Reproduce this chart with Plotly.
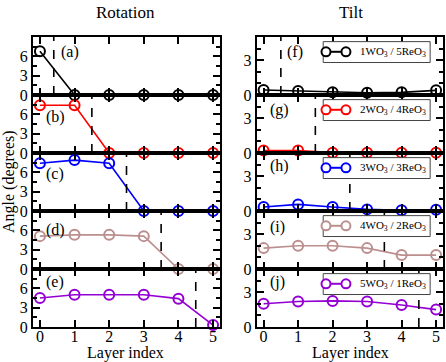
import plotly.graph_objects as go

layers = [0, 1, 2, 3, 4, 5]

# rotation angles (left column)
rot_a = [6.8, 0, 0, 0, 0, 0]
rot_b = [7.4, 7.4, 0, 0, 0, 0]
rot_c = [7.4, 7.9, 7.4, 0, 0, 0]
rot_d = [5.1, 5.3, 5.3, 5.1, 0, 0]
rot_e = [4.5, 5.0, 5.0, 5.0, 4.4, 0.3]

# tilt angles (right column)
tilt_f = [0.43, 0.34, 0.23, 0.2, 0.23, 0.4]
tilt_g = [0.22, 0.22, 0.03, 0.03, 0.03, 0.03]
tilt_h = [0.34, 0.57, 0.34, 0.14, 0.07, 0.1]
tilt_i = [1.8, 2.0, 2.0, 1.8, 1.2, 1.2]
tilt_j = [2.0, 2.2, 2.25, 2.2, 1.9, 1.5]

rot_interfaces = [0.4, 1.5, 2.5, 3.5, 4.5]
tilt_interfaces = [0.5, 1.5, 2.5, 3.5, 4.5]

rot_labels = ["(a)", "(b)", "(c)", "(d)", "(e)"]
tilt_labels = ["(f)", "(g)", "(h)", "(i)", "(j)"]
legend_names = ["1WO<sub>3</sub> / 5ReO<sub>3</sub>", "2WO<sub>3</sub> / 4ReO<sub>3</sub>",
                "3WO<sub>3</sub> / 3ReO<sub>3</sub>", "4WO<sub>3</sub> / 2ReO<sub>3</sub>",
                "5WO<sub>3</sub> / 1ReO<sub>3</sub>"]
colors = ["#000000", "#ff0000", "#0000ff", "#bc8f8f", "#9400d3"]

rot = [rot_a, rot_b, rot_c, rot_d, rot_e]
tilt = [tilt_f, tilt_g, tilt_h, tilt_i, tilt_j]

W, H = 446, 362
FONT = "Liberation Serif"
TOP, PH = 37, 58
left_dom = [33 / W, 220 / W]
right_dom = [256.7 / W, 443 / W]

# label positions (fraction of panel height from top)
rot_lab_y = [0.74, 0.62, 0.63, 0.67, 0.77]
rot_lab_x = [0.55, 0.12, 0.12, 0.12, 0.12]
tilt_lab_y = [0.74, 0.74, 0.77, 0.72, 0.77]
tilt_lab_x = [0.62, 0.12, 0.12, 0.12, 0.12]

fig = go.Figure()
shapes = []
annotations = []
layout = {}

for r in range(5):
    top = TOP + PH * r
    ydom = [1 - (top + PH) / H, 1 - top / H]
    for c in range(2):
        k = r * 2 + c + 1
        xs = "" if k == 1 else str(k)
        data = rot[r] if c == 0 else tilt[r]
        fig.add_trace(go.Scatter(
            x=layers, y=data, mode="lines+markers", xaxis="x" + xs, yaxis="y" + xs,
            line=dict(color=colors[r], width=1.6),
            marker=dict(symbol="circle-open", size=10, color=colors[r], line=dict(width=2)),
            showlegend=False, cliponaxis=False))
        last = r == 4
        layout["xaxis" + xs] = dict(
            domain=left_dom if c == 0 else right_dom, anchor="y" + xs, automargin=False,
            range=[-0.2, 5.2], tickvals=layers, showticklabels=last, ticklabelstandoff=-6,
            ticks="inside", ticklen=7, tickwidth=2, tickcolor="black",
            showline=True, linewidth=2, linecolor="black", mirror="ticks",
            showgrid=False, zeroline=False,
            tickfont=dict(family=FONT, size=16, color="black"))
        if c == 0:
            yr, tv, mv = [0, 9], [0, 3, 6], [1.5, 4.5, 7.5]
        else:
            yr, tv, mv = [0, 5], [0, 3], [1, 2, 4]
        layout["yaxis" + xs] = dict(
            domain=ydom, anchor="x" + xs, range=yr, tickvals=tv, automargin=False,
            ticks="inside", ticklen=7, tickwidth=2, tickcolor="black",
            minor=dict(tickvals=mv, ticks="inside", ticklen=4, tickwidth=2, tickcolor="black"),
            showline=True, linewidth=2, linecolor="black", mirror="ticks",
            showgrid=False, zeroline=False,
            tickfont=dict(family=FONT, size=16, color="black"))

        xv = rot_interfaces[r] if c == 0 else tilt_interfaces[r]
        shapes.append(dict(type="line", xref="x" + xs, yref="y" + xs + " domain",
                           x0=xv, x1=xv, y0=0, y1=1,
                           line=dict(color="black", width=1.6, dash="dash")))
        lab = rot_labels[r] if c == 0 else tilt_labels[r]
        lx = rot_lab_x[r] if c == 0 else tilt_lab_x[r]
        ly = rot_lab_y[r] if c == 0 else tilt_lab_y[r]
        annotations.append(dict(text=lab, xref="x" + xs, yref="y" + xs + " domain",
                                x=lx, y=ly, xanchor="left", yanchor="middle", showarrow=False,
                                font=dict(family=FONT, size=16, color="black")))
        if c == 1:
            # legend box for the tilt panels
            xd = "x" + xs + " domain"
            yd = "y" + xs + " domain"
            shapes.append(dict(type="rect", xref=xd, yref=yd, x0=0.357, x1=0.931, y0=0.56, y1=0.92,
                               fillcolor="white", line=dict(color="#444444", width=1)))
            shapes.append(dict(type="line", xref=xd, yref=yd, x0=0.372, x1=0.479, y0=0.745, y1=0.745,
                               line=dict(color=colors[r], width=2)))
            for cx in (0.372, 0.479):
                shapes.append(dict(type="circle", xref=xd, yref=yd, xsizemode="pixel", ysizemode="pixel",
                                   xanchor=cx, yanchor=0.745, x0=-4.5, x1=4.5, y0=-4.5, y1=4.5,
                                   fillcolor="white", line=dict(color=colors[r], width=2)))
            annotations.append(dict(text=legend_names[r], xref=xd, yref=yd, x=0.545, y=0.75,
                                    xanchor="left", yanchor="middle", showarrow=False,
                                    font=dict(family=FONT, size=11, color="black")))


def paper_text(text, px, py, size=16, angle=0):
    return dict(text=text, xref="paper", yref="paper", x=px / W, y=1 - py / H,
                xanchor="center", yanchor="middle", textangle=angle, showarrow=False,
                font=dict(family=FONT, size=size, color="black"))


annotations += [
    paper_text("Rotation", 126, 12, 17),
    paper_text("Tilt", 351, 12, 17),
    paper_text("Layer index", 126, 353),
    paper_text("Layer index", 350, 353),
    paper_text("Angle (degrees)", 9, 182, angle=-90),
]

fig.update_layout(
    width=W, height=H, margin=dict(l=0, r=0, t=0, b=0, autoexpand=False),
    plot_bgcolor="white", paper_bgcolor="white",
    shapes=shapes, annotations=annotations, **layout)

fig.write_html("out.html", config={"displayModeBar": False},
               post_script="document.body.style.margin='0px';")
